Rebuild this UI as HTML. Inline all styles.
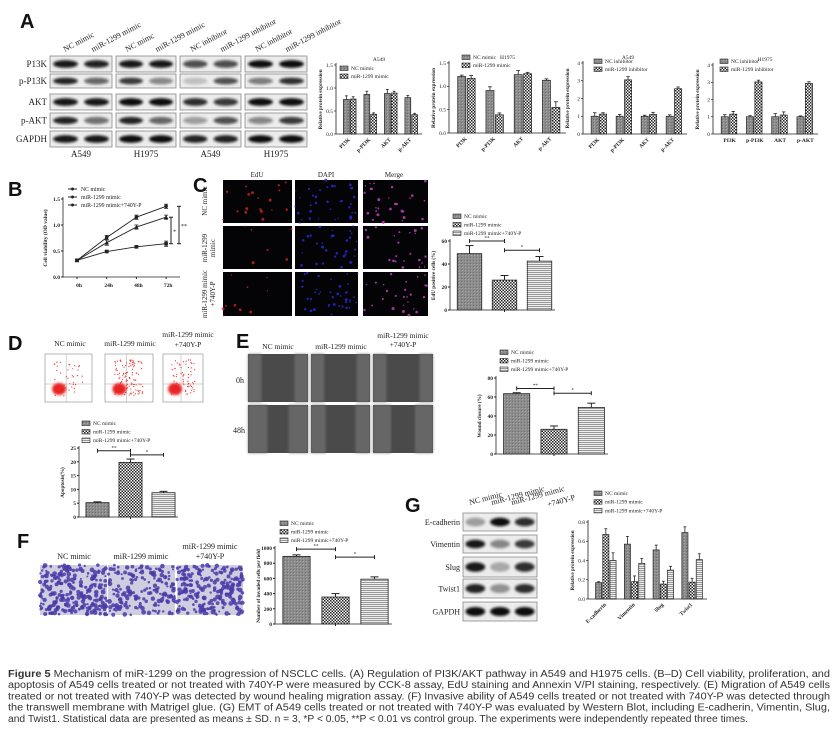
<!DOCTYPE html>
<html><head><meta charset="utf-8">
<style>
html,body{margin:0;padding:0;background:#fff;}
svg{display:block;}
text{font-family:"Liberation Serif",serif;fill:#222;}
.pl{font-family:"Liberation Sans",sans-serif;font-weight:bold;font-size:20px;fill:#111;}
.cap{font-family:"Liberation Sans",sans-serif;font-size:10px;fill:#333;}
</style></head>
<body>
<svg id="fig" width="838" height="742" viewBox="0 0 838 742" xmlns="http://www.w3.org/2000/svg">
<defs>
<pattern id="p0" width="3" height="3" patternUnits="userSpaceOnUse"><rect width="3" height="3" fill="#8c8c8c"/><rect width="1" height="1" fill="#a8a8a8"/><rect x="2" y="2" width="1" height="1" fill="#707070"/></pattern>
<pattern id="p1" width="3" height="3" patternUnits="userSpaceOnUse"><rect width="3" height="3" fill="#fff"/><rect width="1.5" height="1.5" fill="#222"/><rect x="1.5" y="1.5" width="1.5" height="1.5" fill="#222"/></pattern>
<pattern id="p2" width="3" height="2" patternUnits="userSpaceOnUse"><rect width="3" height="2" fill="#eee"/><rect width="3" height="1" fill="#999"/></pattern>
<filter id="blur" x="-20%" y="-50%" width="140%" height="200%"><feGaussianBlur stdDeviation="1.3"/></filter>
</defs>
<g id="root"></g>
</svg>
<script>
// ---------- data ----------
const catsPI = ["PI3K","p-PI3K","AKT","p-AKT"];
const a1NC = [0.75,0.86,0.88,0.79], a1Mi = [0.76,0.43,0.89,0.42];
const a1NCe = [0.08,0.07,0.09,0.05], a1Mie = [0.05,0.03,0.04,0.03];
const a2NC = [1.21,0.91,1.25,1.13], a2Mi = [1.17,0.39,1.27,0.55];
const a2NCe = [0.03,0.08,0.09,0.03], a2Mie = [0.06,0.04,0.03,0.12];
const a3NC = [1.0,1.0,1.0,1.0], a3In = [1.12,3.05,1.1,2.55];
const a3NCe = [0.2,0.1,0.06,0.08], a3Ine = [0.08,0.18,0.12,0.1];
const a4NC = [1.0,1.0,1.0,1.0], a4In = [1.15,3.02,1.1,2.93];
const a4NCe = [0.12,0.06,0.18,0.05], a4Ine = [0.16,0.1,0.18,0.1];
const bHours = ["0h","24h","48h","72h"];
const bNC = [0.32,0.76,1.15,1.36], bMi = [0.32,0.49,0.58,0.64], bRes = [0.32,0.66,0.96,1.15];
const bNCe = [0.02,0.04,0.04,0.04], bMie = [0.02,0.02,0.02,0.05], bRese = [0.02,0.05,0.04,0.04];
const threeGroups = ["NC mimic","miR-1299 mimic","miR-1299 mimic+740Y-P"];
const cVals = [49,26,42.5], cErr = [7,4,4];
const dVals = [5.2,19.8,8.8], dErr = [0.3,1.2,0.5];
const eVals = [63.5,26,49], eErr = [1,3.5,4.5];
const fVals = [890,355,590], fErr = [20,45,30];
const gCats = ["E-cadherin","Vimentin","Slug","Twist1"];
const gNC = [0.17,0.57,0.51,0.69], gMi = [0.67,0.18,0.155,0.175], gRes = [0.40,0.37,0.30,0.41];
const gNCe = [0.01,0.08,0.05,0.06], gMie = [0.06,0.06,0.03,0.04], gRese = [0.08,0.05,0.04,0.06];
const ticks15 = [0,0.5,1.0,1.5], ticks4=[0,1,2,3,4];

const NS="http://www.w3.org/2000/svg";
const root=document.getElementById('root');
function el(tag,at,parent,txt){const e=document.createElementNS(NS,tag);for(const k in at)e.setAttribute(k,at[k]);if(txt!==undefined)e.textContent=txt;(parent||root).appendChild(e);return e;}
function fmt(v,d){return d===undefined?String(v):v.toFixed(d);}

function barChart(c){
  const g=el('g',{});
  
  
  const y=v=>c.yb-(v/c.max)*(c.yb-c.yt);
  el('line',{x1:c.x0,y1:c.yt-2,x2:c.x0,y2:c.yb,stroke:'#222','stroke-width':0.8},g);
  el('line',{x1:c.x0,y1:c.yb,x2:c.x1,y2:c.yb,stroke:'#222','stroke-width':0.8},g);
  c.ticks.forEach(t=>{el('line',{x1:c.x0-2,y1:y(t),x2:c.x0,y2:y(t),stroke:'#222','stroke-width':0.7},g);
    const tl=el('text',{x:c.x0-3,y:y(t)+1.8,'font-size':5.5,'text-anchor':'end'},g,fmt(t,c.dec));
    });
  const ns=c.series.length, n=c.cats.length, gw=(c.x1-c.x0-4)/n, bw=c.bw||gw/(ns+1);
  c.cats.forEach((cat,i)=>{
    const gx=c.x0+4+gw*i+(gw-bw*ns)/2;
    c.series.forEach((s,j)=>{
      const v=s[i], bx=gx+j*bw;
      const r=el('rect',{x:bx,y:y(v),width:bw*0.85,height:c.yb-y(v),fill:'url(#p'+c.pats[j]+')',stroke:'#222','stroke-width':0.7},g);
      
      
      if(c.errs){const e=c.errs[j][i], cx=bx+bw*0.425;
        el('line',{x1:cx,y1:y(v),x2:cx,y2:y(v+e),stroke:'#222','stroke-width':0.8},g);
        el('line',{x1:cx-bw*0.2,y1:y(v+e),x2:cx+bw*0.2,y2:y(v+e),stroke:'#222','stroke-width':0.8},g);}
    });
    const lx=c.x0+4+gw*i+gw/2, ly=c.yb+6;
    const t=el('text',{x:lx,y:ly+(c.rot?0:2),'font-size':c.xfs||5.5,'font-weight':'bold','text-anchor':c.rot?'end':'middle',transform:c.rot?'rotate(-45 '+lx+' '+ly+')':''},g,cat);
    
  });
  if(c.ytitle){const tx=c.x0-(c.ytoff||14),ty=(c.yt+c.yb)/2;
    const t=el('text',{x:tx,y:ty,'font-size':5.2,'font-weight':'bold','text-anchor':'middle',transform:'rotate(-90 '+tx+' '+ty+')'},g,c.ytitle);
    }
  if(c.title){const t=el('text',{x:c.tx||(c.x0+c.x1)/2,y:c.yt-4,'font-size':5.5,'text-anchor':'middle'},g,c.title);
    }
  c.legend.forEach((L,j)=>{const ly=c.ly+j*(c.lsp||8.5);
    el('rect',{x:c.lx,y:ly-4,width:8,height:4.5,fill:'url(#p'+c.pats[j]+')',stroke:'#222','stroke-width':0.6},g);
    const t=el('text',{x:c.lx+11,y:ly,'font-size':5.5},g,L);
    });
  return y;
}
function label(x,y,t,name){const e=el('text',{x:x,y:y,class:'pl'},root,t);}
function txt(x,y,t,fs,anchor,name,rot){const a={x:x,y:y,'font-size':fs,'text-anchor':anchor||'start'};if(rot)a.transform='rotate('+rot+' '+x+' '+y+')';const e=el('text',a,root,t);return e;}
function blot(x,y,w,h,ints,name){const g=el('g',{});
  el('rect',{x:x,y:y,width:w,height:h,fill:'#ececec',stroke:'#8a8a8a','stroke-width':0.8},g);
  const lw=w/ints.length;ints.forEach((v,i)=>{el('ellipse',{cx:x+lw*(i+0.5),cy:y+h/2,rx:lw*0.4,ry:h*0.24,fill:'#111',opacity:v,filter:'url(#blur)'},g);});}
let seed=7;function rnd(){seed=(seed*16807)%2147483647;return seed/2147483647;}
function micro(x,y,w,h,bg,dot,n,r,name){const g=el('g',{});
  el('rect',{x:x,y:y,width:w,height:h,fill:bg},g);for(let i=0;i<n;i++)el('circle',{cx:x+rnd()*w,cy:y+rnd()*h,r:r*(0.6+rnd()*0.8),fill:dot,opacity:0.8},g);}

// ---------- Panel A ----------
label(20,28,'A','panel-label-a');
const heads=["NC mimic","miR-1299 mimic","NC mimc","miR-1299 mimic","NC inhibitor","miR-1299 inhibitor","NC inhibitor","miR-1299 inhibitor"];
const headX=[65,93,127,157,192,222,257,287];
heads.forEach((h,i)=>txt(headX[i],52,h,8,'start','lane-header',-28));
const rows=["P13K","p-P13K","AKT","p-AKT","GAPDH"], rowY=[56,74,94,113,131], rowH=[16,14,16,15,16];
const boxes=[[50,62],[116,60],[180,61],[245,62]];
const intens=[[[0.95,0.9],[0.9,0.6],[0.95,0.95],[0.9,0.55],[0.95,0.95]],
 [[0.95,0.95],[0.8,0.45],[1,1],[0.9,0.6],[1,1]],
 [[0.7,0.7],[0.2,0.7],[0.85,0.8],[0.35,0.7],[0.9,0.9]],
 [[1,1],[0.5,0.85],[1,1],[0.45,0.8],[1,1]]];
rows.forEach((r,ri)=>{txt(47,rowY[ri]+rowH[ri]/2+3,r,9,'end','row-label');
  boxes.forEach((b,bi)=>blot(b[0],rowY[ri],b[1],rowH[ri],intens[bi][ri],'blot-'+r.toLowerCase()+'-'+bi));});
["A549","H1975","A549","H1975"].forEach((t,i)=>txt(boxes[i][0]+boxes[i][1]/2,157,t,9,'middle','cell-line-label'));
barChart({name:'chart-a-a549-mimic',x0:336,x1:422,yt:65,yb:134,max:1.5,ticks:ticks15,dec:1,cats:catsPI,series:[a1NC,a1Mi],errs:[a1NCe,a1Mie],pats:[0,1],rot:true,ytitle:'Relative protein expression',title:'A549',legend:["NC mimic","miR-1299 mimic"],lx:340,ly:70,lsp:8});
barChart({name:'chart-a-h1975-mimic',x0:449,x1:566,yt:63,yb:133,max:1.5,ticks:ticks15,dec:1,cats:catsPI,series:[a2NC,a2Mi],errs:[a2NCe,a2Mie],pats:[0,1],rot:true,ytitle:'Relative protein expression',title:'H1975',legend:["NC mimic","miR-1299 mimic"],lx:462,ly:59,lsp:8});
barChart({name:'chart-a-a549-inhibitor',x0:583,x1:687,yt:63,yb:134,max:4,ticks:ticks4,cats:catsPI,series:[a3NC,a3In],errs:[a3NCe,a3Ine],pats:[0,1],rot:true,ytitle:'Relative protein expression',title:'A549',tx:628,legend:["NC inhibitor","miR-1299 inhibitor"],lx:594,ly:63,lsp:8});
barChart({name:'chart-a-h1975-inhibitor',x0:713,x1:818,yt:65,yb:134,max:4,ticks:ticks4,cats:catsPI,series:[a4NC,a4In],errs:[a4NCe,a4Ine],pats:[0,1],rot:false,xfs:5.5,ytitle:'Relative protein expression',title:'H1975',tx:765,legend:["NC inhibitor","miR-1299 inhibitor"],lx:720,ly:63,lsp:8});

// ---------- Panel B ----------
label(8,196,'B','panel-label-b');
(function(){const x0=63,x1=180,yt=199,yb=277,max=1.5;
  const xs=i=>77+i*29.7, y=v=>yb-(v/max)*(yb-yt);
  const g=el('g',{});
  el('line',{x1:x0,y1:yt-2,x2:x0,y2:yb,stroke:'#222','stroke-width':0.8},g);
  el('line',{x1:x0,y1:yb,x2:x1,y2:yb,stroke:'#222','stroke-width':0.8},g);
  ticks15.forEach(t=>{el('line',{x1:x0-2,y1:y(t),x2:x0,y2:y(t),stroke:'#222'},g);el('text',{x:x0-3,y:y(t)+2,'font-size':5.5,'text-anchor':'end','font-weight':'bold'},g,t.toFixed(1));});
  bHours.forEach((h,i)=>{el('line',{x1:xs(i),y1:yb,x2:xs(i),y2:yb+2,stroke:'#222'},g);el('text',{x:xs(i)+2,y:yb+10,'font-size':5.5,'text-anchor':'middle','font-weight':'bold'},g,h);});
  const ser=[[bNC,bNCe,'circle'],[bMi,bMie,'square'],[bRes,bRese,'tri']];
  ser.forEach((s,j)=>{const pts=s[0].map((v,i)=>xs(i)+','+y(v)).join(' ');
    const pl=el('polyline',{points:pts,fill:'none',stroke:'#222','stroke-width':0.9},g);
    
    s[0].forEach((v,i)=>{const cx=xs(i),cy=y(v),e=s[1][i];
      el('line',{x1:cx,y1:y(v-e),x2:cx,y2:y(v+e),stroke:'#222','stroke-width':0.8},g);
      el('line',{x1:cx-2,y1:y(v+e),x2:cx+2,y2:y(v+e),stroke:'#222','stroke-width':0.8},g);
      el('line',{x1:cx-2,y1:y(v-e),x2:cx+2,y2:y(v-e),stroke:'#222','stroke-width':0.8},g);
      if(s[2]==='circle')el('circle',{cx:cx,cy:cy,r:1.8,fill:'#222'},g);
      else if(s[2]==='square')el('rect',{x:cx-1.8,y:cy-1.8,width:3.6,height:3.6,fill:'#222'},g);
      else el('polygon',{points:(cx)+','+(cy-2.2)+' '+(cx-2.2)+','+(cy+1.8)+' '+(cx+2.2)+','+(cy+1.8),fill:'#222'},g);});
    const ly=189+j*8;el('line',{x1:68,y1:ly,x2:77,y2:ly,stroke:'#222'},g);el('circle',{cx:72.5,cy:ly,r:1.5,fill:'#222'},g);
    el('text',{x:81,y:ly+2,'font-size':5.8},g,["NC mimic","miR-1299 mimic","miR-1299 mimic+740Y-P"][j]);});
  [[171,bRes[3],bMi[3],'*'],[179,bNC[3],bMi[3],'**']].forEach(b=>{
    el('line',{x1:b[0],y1:y(b[1]),x2:b[0],y2:y(b[2]),stroke:'#222'},g);
    el('line',{x1:b[0]-2,y1:y(b[1]),x2:b[0]+2,y2:y(b[1]),stroke:'#222'},g);
    el('line',{x1:b[0]-2,y1:y(b[2]),x2:b[0]+2,y2:y(b[2]),stroke:'#222'},g);
    el('text',{x:b[0]+2,y:(y(b[1])+y(b[2]))/2+3,'font-size':6},g,b[3]);});
  const tx=47,ty=238;el('text',{x:tx,y:ty,'font-size':5.5,'font-weight':'bold','text-anchor':'middle',transform:'rotate(-90 '+tx+' '+ty+')'},g,'Cell viability (OD value)');
})();

function threeBar(name,x0,x1,yt,yb,max,ticks,vals,errs,lx,ly,title,brackets){
  const g=el('g',{});
  const y=v=>yb-(v/max)*(yb-yt);
  el('line',{x1:x0,y1:yt-2,x2:x0,y2:yb,stroke:'#222','stroke-width':0.8},g);
  el('line',{x1:x0,y1:yb,x2:x1,y2:yb,stroke:'#222','stroke-width':0.8},g);
  ticks.forEach(t=>{el('line',{x1:x0-2,y1:y(t),x2:x0,y2:y(t),stroke:'#222'},g);el('text',{x:x0-3,y:y(t)+2,'font-size':5.5,'text-anchor':'end','font-weight':'bold'},g,String(t));});
  const gw=(x1-x0)/3,bw=gw*0.7;const cx=[];
  vals.forEach((v,i)=>{const bx=x0+gw*i+(gw-bw)/2+2;cx.push(bx+bw/2);
    const r=el('rect',{x:bx,y:y(v),width:bw,height:yb-y(v),fill:'url(#p'+i+')',stroke:'#222','stroke-width':0.8},g);
    
    const e=errs[i];el('line',{x1:bx+bw/2,y1:y(v),x2:bx+bw/2,y2:y(v+e),stroke:'#222'},g);el('line',{x1:bx+bw/2-4,y1:y(v+e),x2:bx+bw/2+4,y2:y(v+e),stroke:'#222'},g);});
  el('line',{x1:cx[1],y1:yb,x2:cx[1],y2:yb+2,stroke:'#222'},g);
  threeGroups.forEach((L,j)=>{const yy=ly+j*8.5;el('rect',{x:lx,y:yy-4,width:8,height:4.5,fill:'url(#p'+j+')',stroke:'#222','stroke-width':0.6},g);
    const t=el('text',{x:lx+11,y:yy,'font-size':5.5},g,L);});
  brackets.forEach(b=>{const yy=y(b[2]);const a=cx[b[0]],c=cx[b[1]];
    el('line',{x1:a,y1:yy,x2:c,y2:yy,stroke:'#222'},g);el('line',{x1:a,y1:yy-2,x2:a,y2:yy+2,stroke:'#222'},g);el('line',{x1:c,y1:yy-2,x2:c,y2:yy+2,stroke:'#222'},g);
    el('text',{x:(a+c)/2,y:yy-1.5,'font-size':5,'text-anchor':'middle'},g,b[3]);});
  const tx=x0-15,ty=(yt+yb)/2;el('text',{x:tx,y:ty,'font-size':5.2,'font-weight':'bold','text-anchor':'middle',transform:'rotate(-90 '+tx+' '+ty+')'},g,title);
}

// ---------- Panel C ----------
label(193,192,'C','panel-label-c');
["EdU","DAPI","Merge"].forEach((t,i)=>txt([257,326,394][i],177,t,7,'middle','column-header'));
const cCols=[[223,69],[295,63],[363,65]], cRows=[[180,43],[226,43],[272,44]], cN=[[18,35,28],[6,30,22],[10,38,26]];
cRows.forEach((r,ri)=>cCols.forEach((c,ci)=>micro(c[0],r[0],c[1],r[1],'#040406',['#d8222c','#2a2ad8','#d040c8'][ci],cN[ri][ci],1.1,'edu-image')));
txt(207,201,'NC mimic',7,'middle','row-label',-90);
txt(207,248,'miR-1299',7,'middle','row-label',-90);txt(215,248,'mimic',7,'middle','row-label',-90);
txt(207,294,'miR-1299 mimic',7,'middle','row-label',-90);txt(215,294,'+740Y-P',7,'middle','row-label',-90);
threeBar('chart-c-edu',450,555,241,310,60,[0,20,40,60],cVals,cErr,453,218,'EdU positive cells (%)',[[0,1,60,'**'],[1,2,52,'*']]);

// ---------- Panel D ----------
label(8,350,'D','panel-label-d');
txt(70,346,'NC mimic',7.5,'middle','column-header');txt(130,346,'miR-1299 mimic',7.5,'middle','column-header');
txt(188,337,'miR-1299 mimic',7.5,'middle','column-header');txt(188,347,'+740Y-P',7.5,'middle','column-header');
[[45,47,40],[105,48,110],[163,40,70]].forEach((p,i)=>{const g=el('g',{});
  el('rect',{x:p[0],y:354,width:p[1],height:48,fill:'#fff',stroke:'#888','stroke-width':0.6},g);
  el('line',{x1:p[0],y1:384,x2:p[0]+p[1],y2:384,stroke:'#aaa','stroke-width':0.5},g);el('line',{x1:p[0]+p[1]*0.45,y1:354,x2:p[0]+p[1]*0.45,y2:402,stroke:'#aaa','stroke-width':0.5},g);
  el('ellipse',{cx:p[0]+p[1]*0.3,cy:389,rx:7,ry:6,fill:'#e82020',filter:'url(#blur)'},g);
  for(let k=0;k<p[2];k++)el('circle',{cx:p[0]+p[1]*(0.2+rnd()*0.6),cy:360+rnd()*36,r:0.6,fill:'#e33'},g);});
threeBar('chart-d-apoptosis',79,178,448,517,25,[0,5,10,15,20,25],dVals,dErr,82,425,'Apoptosis(%)',[[0,1,24,'**'],[1,2,22.5,'*']]);

// ---------- Panel E ----------
label(236,348,'E','panel-label-e');
txt(278,349,'NC mimic',7.5,'middle','column-header');txt(341,349,'miR-1299 mimic',7.5,'middle','column-header');
txt(403,338,'miR-1299 mimic',7.5,'middle','column-header');txt(403,347,'+740Y-P',7.5,'middle','column-header');
txt(236,383,'0h',8,'start','row-label');txt(233,433,'48h',8,'start','row-label');
[[354,48],[405,48]].forEach((r,ri)=>[[248,60],[311,59],[373,60]].forEach((c,ci)=>{const g=el('g',{});
  el('rect',{x:c[0],y:r[0],width:c[1],height:r[1],fill:'#4a4a4a'},g);
  const gapw=ri===0?c[1]*0.55:[c[1]*0.35,c[1]*0.5,c[1]*0.4][ci];
  el('rect',{x:c[0],y:r[0],width:(c[1]-gapw)/2,height:r[1],fill:'#6e6e6e',opacity:0.8,filter:'url(#blur)'},g);
  el('rect',{x:c[0]+(c[1]+gapw)/2,y:r[0],width:(c[1]-gapw)/2,height:r[1],fill:'#6e6e6e',opacity:0.8,filter:'url(#blur)'},g);}));
threeBar('chart-e-wound',496,608,378,454,80,[0,20,40,60,80],eVals,eErr,500,354,'Wound closure (%)',[[0,1,69,'**'],[1,2,64,'*']]);

// ---------- Panel F ----------
label(17,548,'F','panel-label-f');
txt(74,559,'NC mimic',8,'middle','column-header');txt(141,559,'miR-1299 mimic',8,'middle','column-header');
txt(210,549,'miR-1299 mimic',8,'middle','column-header');txt(210,559,'+740Y-P',8,'middle','column-header');
[[40,67,260],[108,67,170],[177,66,230]].forEach(c=>{const g=el('g',{});
  el('rect',{x:c[0],y:565,width:c[1],height:50,fill:'#cfcde0'},g);
  for(let k=0;k<c[2];k++)el('circle',{cx:c[0]+rnd()*c[1],cy:565+rnd()*50,r:1+rnd()*1.4,fill:'#4a3aa8',opacity:0.85},g);});
threeBar('chart-f-invasion',275,392,548,624,1000,[0,200,400,600,800,1000],fVals,fErr,280,525,'Number of invaded cells per field',[[0,1,985,'**'],[1,2,880,'*']]);

// ---------- Panel G ----------
label(405,512,'G','panel-label-g');
["NC mimic","miR-1299 mimic","miR-1299 mimic"].forEach((h,i)=>txt([470,492,512][i],505,h,8,'start','lane-header',-15));
txt(548,507,'+740Y-P',8,'start','lane-header',-15);
const gRows=["E-cadherin","Vimentin","Slug","Twist1","GAPDH"], gY=[513,535,557,579,602], gH=[18,18,20,19,19];
const gInt=[[0.35,1,0.85],[0.95,0.45,0.8],[0.95,0.3,0.85],[0.9,0.4,0.85],[1,1,1]];
gRows.forEach((r,i)=>{txt(460,gY[i]+gH[i]/2+3,r,8,'end','row-label');blot(463,gY[i],74,gH[i],gInt[i],'blot-'+r.toLowerCase());});
barChart({name:'chart-g-emt',x0:588,x1:707,yt:522,yb:599,max:0.8,ticks:[0,0.2,0.4,0.6,0.8],dec:1,cats:gCats,series:[gNC,gMi,gRes],errs:[gNCe,gMie,gRese],pats:[0,1,2],rot:true,ytitle:'Relative protein expression',legend:threeGroups,lx:594,ly:495,lsp:8.7});

// ---------- caption ----------
const cap=[
 ['Figure 5',' Mechanism of miR-1299 on the progression of NSCLC cells. (A) Regulation of PI3K/AKT pathway in A549 and H1975 cells. (B–D) Cell viability, proliferation, and'],
 ['','apoptosis of A549 cells treated or not treated with 740Y-P were measured by CCK-8 assay, EdU staining and Annexin V/PI staining, respectively. (E) Migration of A549 cells'],
 ['','treated or not treated with 740Y-P was detected by wound healing migration assay. (F) Invasive ability of A549 cells treated or not treated with 740Y-P was detected through'],
 ['','the transwell membrane with Matrigel glue. (G) EMT of A549 cells treated or not treated with 740Y-P was evaluated by Western Blot, including E-cadherin, Vimentin, Slug,'],
 ['','and Twist1. Statistical data are presented as means ± SD. n = 3, *P < 0.05, **P < 0.01 vs control group. The experiments were independently repeated three times.']];
const capW=[822,822,822,822,740];
cap.forEach((c,i)=>{const t=el('text',{x:8,y:677+i*11.2,class:'cap',textLength:capW[i],lengthAdjust:'spacingAndGlyphs'},root);
  
  if(c[0]){el('tspan',{'font-weight':'bold'},t,c[0]);}
  el('tspan',{},t,c[1]);});
</script>
</body></html>
